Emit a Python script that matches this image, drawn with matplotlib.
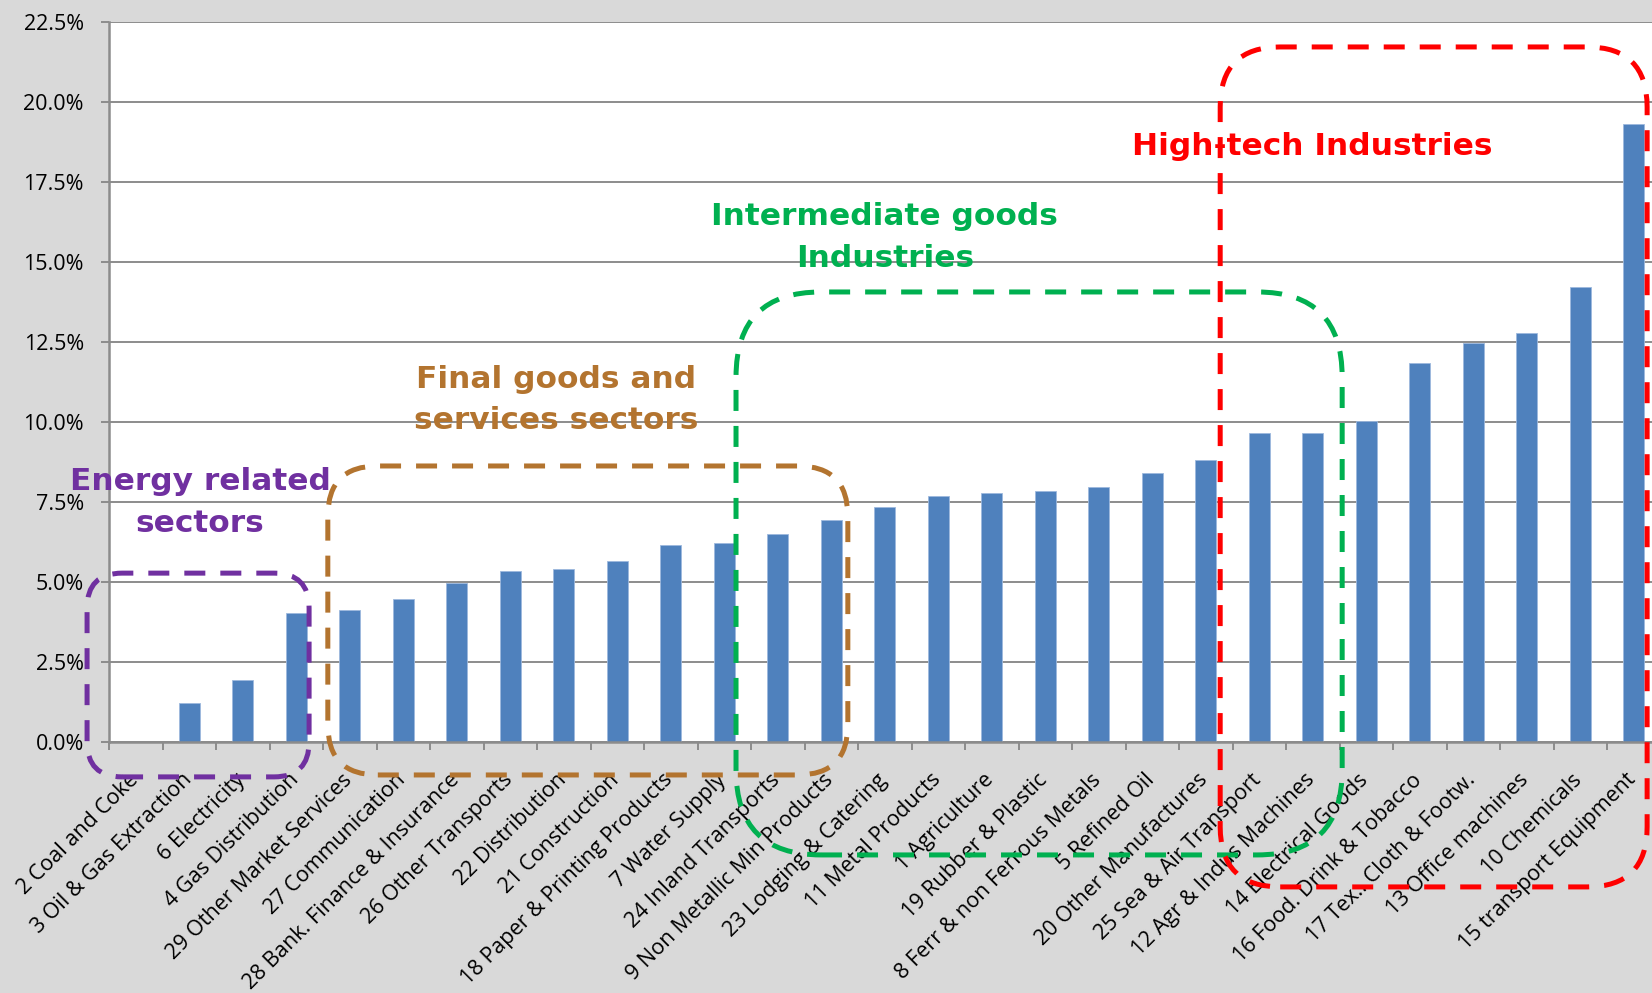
import matplotlib
matplotlib.use('Agg')
import matplotlib.pyplot as plt
import matplotlib.transforms as mtransforms
from matplotlib.patches import FancyBboxPatch
from matplotlib.ticker import FuncFormatter, MultipleLocator

# sectors sorted by share, and their values (%)
sectors = ['2 Coal and Coke', '3 Oil & Gas Extraction', '6 Electricity', '4 Gas Distribution',
           '29 Other Market Services', '27 Communication', '28 Bank. Finance & Insurance',
           '26 Other Transports', '22 Distribution', '21 Construction',
           '18 Paper & Printing Products', '7 Water Supply', '24 Inland Transports',
           '9 Non Metallic Min Products', '23 Lodging & Catering', '11 Metal Products',
           '1 Agriculture', '19 Rubber & Plastic', '8 Ferr & non Ferrous Metals', '5 Refined Oil',
           '20 Other Manufactures', '25 Sea & Air Transport', '12 Agr & Indus Machines',
           '14 Electrical Goods', '16 Food. Drink & Tobacco', '17 Tex.. Cloth & Footw.',
           '13 Office machines', '10 Chemicals', '15 transport Equipment']
shares = [0.0, 1.20, 1.92, 4.01, 4.12, 4.45, 4.96, 5.34, 5.40, 5.65, 6.14, 6.21, 6.50, 6.93,
          7.33, 7.69, 7.79, 7.85, 7.95, 8.41, 8.80, 9.64, 9.66, 10.03, 11.84, 12.45, 12.78,
          14.21, 19.30]

# sector groups: label, colour, box (x0, x1, y0, y1), corner radius px, label position
groups = [
    ('Energy related\nsectors', '#7030A0', (-0.91, 3.24, -1.10, 5.27), 35, (1.20, 7.48)),
    ('Final goods and\nservices sectors', '#B3742F', (3.59, 13.31, -1.04, 8.62), 50, (7.86, 10.68)),
    ('Intermediate goods\nIndustries', '#00B050', (11.22, 22.55, -3.54, 14.06), 85, (14.0, 15.76)),
    ('High-tech Industries', '#FF0000', (20.27, 28.25, -4.54, 21.72), 60, (21.99, 18.61)),
]

W, H = 1652, 993
fig = plt.figure(figsize=(W / 100, H / 100), dpi=100)
fig.set_facecolor('#D9D9D9')
ax = fig.add_axes([109 / W, (H - 741.7) / H, (1660.5 - 109) / W, (741.7 - 22) / H])
ax.set_facecolor('white')

x = list(range(len(sectors)))
ax.bar(x, shares, width=0.4, color='#4F81BD', edgecolor='#9DB9DD', linewidth=0.6, zorder=2)

ax.set_xlim(-0.5, len(sectors) - 0.5)
ax.set_ylim(0, 22.5)
ax.yaxis.set_major_locator(MultipleLocator(2.5))
ax.yaxis.set_major_formatter(FuncFormatter(lambda v, p: '%.1f%%' % v))
ax.yaxis.grid(True, color='#8C8C8C', linewidth=1.4, zorder=0)
ax.set_axisbelow(True)

for s in ['top', 'right']:
    ax.spines[s].set_visible(False)
for s in ['left', 'bottom']:
    ax.spines[s].set_color('#8C8C8C')
    ax.spines[s].set_linewidth(1.8)

ax.set_xticks(x)
ax.set_xticklabels(sectors, rotation=45, ha='right', va='top', rotation_mode='anchor',
                   fontsize=15.5, family='Open Sans')
ax.set_xticks([i - 0.5 for i in range(len(sectors) + 1)], minor=True)
ax.tick_params(axis='x', which='major', length=0, pad=17)
ax.tick_params(axis='x', which='minor', length=6, width=1.4, color='#8C8C8C')
ax.tick_params(axis='y', length=6, width=1.4, color='#8C8C8C', pad=12)
for t in ax.get_yticklabels():
    t.set_family('Open Sans')
    t.set_fontsize(15.5)

# nudge the slanted labels a little down-left
shift = mtransforms.ScaledTranslation(-6 / 72, -3 / 72, fig.dpi_scale_trans)
for t in ax.get_xticklabels():
    t.set_transform(t.get_transform() + shift)

# pixel size of one data unit, so corners come out round
p0 = ax.transData.transform((0, 0))
p1 = ax.transData.transform((1, 1))
sx, sy = p1[0] - p0[0], p1[1] - p0[1]

for label, col, (x0, x1, y0, y1), rad, (tx, ty) in groups:
    box = FancyBboxPatch((x0, y0), x1 - x0, y1 - y0,
                         boxstyle='round,pad=0,rounding_size=%f' % (rad / sx),
                         mutation_aspect=sx / sy, fill=False, edgecolor=col,
                         linewidth=3.6, linestyle=(0, (4.2, 3.0)), capstyle='butt',
                         clip_on=False, zorder=5)
    ax.add_patch(box)
    ax.text(tx, ty, label, color=col, ha='center', va='center', multialignment='center',
            fontsize=22.5, fontweight='bold', family='DejaVu Sans', linespacing=1.55,
            zorder=6)

fig.savefig('out.png', dpi=100, facecolor=fig.get_facecolor())
